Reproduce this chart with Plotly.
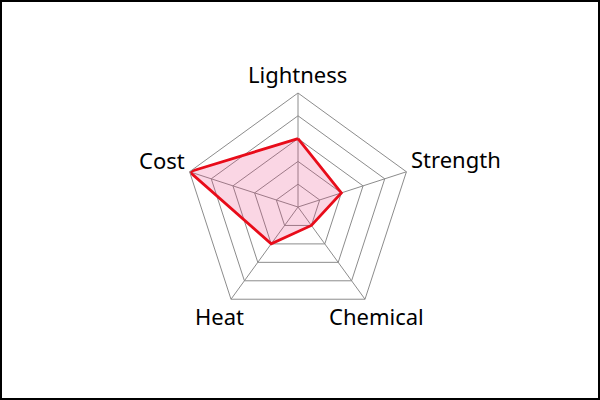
import plotly.graph_objects as go

categories = ["Lightness", "Strength", "Chemical", "Heat", "Cost"]
values = [3, 2, 1, 2, 5]

theta = categories + [categories[0]]
r = values + [values[0]]

fig = go.Figure()
fig.add_trace(go.Scatterpolar(
    r=r, theta=theta, mode="lines", fill="toself",
    line=dict(color="#e80c1a", width=2.8),
    fillcolor="rgba(230,50,120,0.2)",
    hoverinfo="skip", showlegend=False,
))

cx, cy, R = 298, 207, 114
W, H = 600, 400
# label centres (pixels) around the pentagon
label_pos = {"Lightness": (297, 74), "Strength": (456, 159), "Chemical": (376, 316),
             "Heat": (220, 316), "Cost": (162, 160)}
annotations = [dict(text=c, x=label_pos[c][0] / W, y=1 - label_pos[c][1] / H,
                    xref="paper", yref="paper", xanchor="center", yanchor="middle",
                    showarrow=False, font=dict(size=22, color="black"))
               for c in categories]

fig.update_layout(
    width=W, height=H,
    margin=dict(l=0, r=0, t=0, b=0),
    paper_bgcolor="white",
    font=dict(family="Noto Sans, Open Sans, sans-serif", color="black"),
    polar=dict(
        domain=dict(x=[(cx - R) / W, (cx + R) / W], y=[(H - cy - R) / H, (H - cy + R) / H]),
        bgcolor="white",
        gridshape="linear",
        radialaxis=dict(range=[0, 5], dtick=1, showticklabels=False, ticks="",
                        showline=False, gridcolor="#8c8c8c", gridwidth=1),
        angularaxis=dict(direction="clockwise", rotation=90, ticks="",
                         showticklabels=False,
                         showline=True, linecolor="#8c8c8c", linewidth=1,
                         gridcolor="#8c8c8c", gridwidth=1),
    ),
    annotations=annotations,
    shapes=[dict(type="rect", xref="paper", yref="paper", x0=0, y0=0, x1=1, y1=1,
                 line=dict(color="black", width=4), fillcolor="rgba(0,0,0,0)")],
)

fig.write_html("out.html", config={"displayModeBar": False},
               post_script="document.body.style.margin='0';document.documentElement.style.overflow='hidden';")
